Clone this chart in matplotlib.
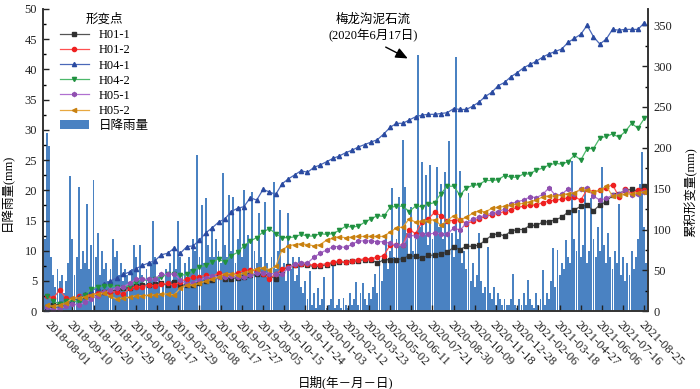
import matplotlib
matplotlib.use('Agg')
import matplotlib.pyplot as plt
from matplotlib.patches import Patch
from matplotlib.ticker import MultipleLocator
import pandas as pd

plt.rcParams['font.family'] = ['Liberation Serif', 'Noto Sans CJK SC']
plt.rcParams['font.size'] = 9

# daily rainfall (mm), one value per 4-day step from 2018-07-16
rain = [17, 12, 29.4, 27.3, 9, 6, 4, 7, 5, 6, 3, 5, 8, 22.4, 12, 6, 9, 20.6, 7, 10,
        8, 17.8, 7, 11, 21.7, 9, 13, 6, 10, 7, 8, 5, 7, 12, 9, 10, 6, 8, 5, 7,
        6, 4, 7, 10.9, 9, 5, 11, 6, 4, 7, 5, 8, 15, 9, 4, 6, 3, 5, 7, 6,
        8, 5, 10, 7, 15, 9, 6, 8, 5, 9, 7, 12, 10, 25.8, 9, 17.5, 8, 18.7, 11, 9,
        14, 9, 12, 10, 8, 22.8, 11, 9, 19.2, 10, 18.9, 8, 12, 17.3, 9, 20, 11, 12.6, 7, 19.8,
        10, 8, 16.2, 9, 7, 18.1, 8, 6, 9, 21.4, 7, 10, 16.7, 6, 8, 5, 16.2, 7, 9, 5,
        6, 9, 4, 3, 5, 2, 6.6, 1, 3, 0.5, 3.9, 1, 2, 5.6, 0.5, 1, 2, 7.9, 0.5, 1,
        2, 0.5, 2.2, 1, 0.5, 3, 1, 2, 4.9, 1, 3, 4.6, 2, 1, 3, 2, 4, 6.2, 3, 9,
        5, 8, 12.6, 7, 10, 20.3, 9, 12, 18.9, 11, 28.3, 20.6, 13, 9, 17.3, 10, 12, 42.4, 14, 24.7,
        13, 22.5, 11, 24.2, 12, 15, 23.9, 14, 21, 12, 23.1, 10, 28.2, 13, 9, 42, 12, 23.2, 8, 10,
        7, 19.5, 5, 8, 4, 6, 12.9, 5, 3, 4, 10.6, 3, 2, 4, 1, 3, 2, 1, 2, 1,
        1, 2, 6.2, 1, 0.5, 2, 1, 3, 1, 5.1, 2, 1, 0.5, 3, 1, 2, 6.8, 1, 3, 2,
        5, 10.4, 4, 10.1, 6, 8, 7, 11.8, 9, 8, 24.8, 12, 10, 16.7, 9, 11, 20, 8, 10, 18.7,
        12, 9, 14, 10, 23.9, 11, 8, 13, 9, 7, 10, 8, 17.8, 6, 9, 5, 8, 6, 10, 7,
        9, 12, 21.1, 26.4, 14, 8]
rain_dates = pd.date_range('2018-07-16', periods=len(rain), freq='4D')

# cumulative deformation (mm), one value per 12-day survey from 2018-07-24
h01_1 = [5, 7, 9, 11, 13, 16, 19, 20, 21, 24, 25, 26, 28, 29, 31, 32, 32, 33, 34, 32,
         36, 32, 32, 32, 34, 37, 38, 43, 40, 40, 41, 42, 44, 45, 45, 43, 40, 49, 55, 57,
         58, 56, 55, 55, 57, 59, 60, 60, 61, 62, 63, 63, 59, 63, 63, 63, 64.5, 68, 67, 65,
         68.5, 68.5, 70.6, 72, 78.7, 75.5, 79.5, 79.5, 81, 87, 93, 95, 92, 98, 100, 100, 105, 105, 109, 109.5,
         112, 115, 121.5, 124, 128.5, 129.7, 123, 130, 134, 142, 144, 148, 149, 147, 153]
h01_2 = [19, 16, 26, 16, 15, 18, 20, 20, 22, 24, 24, 23, 21, 28, 30, 30, 32, 31, 33, 34,
         32, 36, 40, 42, 42, 44, 42, 47, 44, 44, 47, 50, 50, 50, 46, 40, 45, 52, 54, 57,
         58, 58, 56, 57, 58, 60, 61, 60, 62, 63, 64, 64.5, 66, 68, 81, 81, 81, 100, 95, 109,
         113, 121, 117, 111, 111, 112, 107, 110, 113, 116, 118, 120, 122, 124, 127, 128.5, 130, 130, 133, 135,
         136, 137, 139, 140, 136, 149, 146, 148, 151, 155, 140, 149, 144, 148, 148]
h04_1 = [1, 3, 6, 9, 13, 17, 21, 25, 29, 33, 37, 41, 45, 48, 52, 56, 59, 62, 69, 71,
         77, 71, 79, 80, 87, 96, 102, 109, 113, 122, 126, 128, 139, 136, 149, 146, 143, 156, 162, 167,
         172, 170, 176, 179, 183, 187, 190, 194, 197, 201, 204, 207, 210, 217, 225, 230, 230, 234, 238, 240,
         241, 241, 242, 243, 248, 247, 247, 251, 256, 263, 268, 276, 280, 287, 292, 298, 302, 306, 311, 315,
         318, 321, 329, 334, 339, 350, 336, 327, 333, 345, 344, 345, 345, 345, 353]
h04_2 = [18, 12, 9, 12, 13, 11, 20, 27, 30, 31, 31, 30, 29, 31, 36, 38, 38, 40, 42, 45,
         46, 44, 45, 49, 54, 56, 60, 64, 60, 68, 72, 80, 86, 90, 97, 101, 95, 90, 90, 91,
         94, 92, 92, 95, 94, 95, 99, 104, 103, 104, 109, 113, 117, 116, 127, 128.5, 128.5, 122, 128.5, 128,
         131, 133, 144, 153, 153, 142, 151, 154, 155, 160, 160, 161, 166, 164, 164, 168, 168, 173, 175, 179,
         181, 180, 183, 191, 185, 199, 199, 212, 214, 217, 213, 220, 230, 224, 236]
h05_1 = [5, 2, 3, 6, 9, 7, 11, 15, 19, 23, 26, 28, 30, 34, 39, 39, 39, 40, 45, 45,
         46, 38, 33, 35, 38, 41, 43, 42, 42, 43, 42, 42, 44, 47, 47, 46, 46, 46, 53, 58,
         59, 59, 66, 71, 75, 79, 79, 78, 82, 86, 86, 86, 85, 85, 83, 81, 81, 93, 92, 94,
         94, 95.8, 95, 94, 102, 99, 108, 113, 115, 117.5, 120, 122, 125, 131.6, 134, 136, 140, 139, 143, 151,
         142, 143, 150, 144, 150, 151, 141, 136, 138, 142, 143, 148, 142, 143, 146]
h05_2 = [7, 6, 7, 10, 16, 16, 17, 20, 21, 22, 18, 15, 16, 17, 19, 19, 19.5, 20, 21, 21,
         20, 28, 32, 32, 34, 37, 39, 42, 46, 46, 44, 47, 49, 52, 53, 51, 55, 75, 80, 81.5,
         82.5, 81.5, 80, 81.5, 87, 89.5, 91, 90, 90.5, 91.5, 91.5, 91.5, 91.5, 91.5, 97, 102, 103, 113, 109, 110,
         111, 112, 105, 111, 117, 112, 115, 120, 123, 121.5, 126, 127, 128.5, 130, 131, 132, 134, 136, 140, 141,
         141, 142, 144, 145, 149, 148, 146, 148, 153, 141, 142, 143, 144, 145, 146]
survey_dates = pd.date_range('2018-07-24', periods=len(h04_1), freq='12D')

point_names = ['H01-1', 'H01-2', 'H04-1', 'H04-2', 'H05-1', 'H05-2']
point_values = [h01_1, h01_2, h04_1, h04_2, h05_1, h05_2]
line_colors = ['#555555', '#ff5050', '#4a68b8', '#4cb86a', '#b070d0', '#e8a840']
marker_colors = ['#303030', '#ee2020', '#2a4aa0', '#209040', '#9050b0', '#c88010']
markers = ['s', 'o', '^', 'v', 'h', '<']

tick_dates = pd.date_range('2018-08-01', '2021-08-25', freq='40D')

fig, ax = plt.subplots(figsize=(7, 3.89), dpi=100)
fig.subplots_adjust(left=0.061, right=0.925, top=0.977, bottom=0.2)

ax.bar(rain_dates, rain, width=3.6, color='#4a82c2', linewidth=0)
ax2 = ax.twinx()
handles = []
for name, vals, lc, mc, m in zip(point_names, point_values, line_colors, marker_colors, markers):
    h, = ax2.plot(survey_dates, vals, color=lc, lw=0.9, marker=m, ms=3.0,
                  mfc=mc, mec=mc, label=name)
    handles.append(h)
handles.append(Patch(facecolor='#4a82c2', label='日降雨量'))

ax.set_xlim(pd.Timestamp('2018-07-16'), pd.Timestamp('2021-08-31'))
ax.set_ylim(0, 50)
ax2.set_ylim(0, 370)
ax.set_xticks(tick_dates)
ax.set_xticklabels([d.strftime('%Y-%m-%d') for d in tick_dates],
                   rotation=-45, ha='left', va='top', rotation_mode='anchor')
ax.yaxis.set_major_locator(MultipleLocator(5))
ax.yaxis.set_minor_locator(MultipleLocator(2.5))
ax2.yaxis.set_major_locator(MultipleLocator(50))
ax2.yaxis.set_minor_locator(MultipleLocator(25))
for a in (ax, ax2):
    a.tick_params(direction='in', length=4, width=1, colors='#222222', pad=4)
    a.tick_params(which='minor', direction='in', length=2, width=1)
    a.spines['top'].set_visible(False)
    for s in ('left', 'right', 'bottom'):
        a.spines[s].set_linewidth(1.2)
        a.spines[s].set_color('#333333')
ax.tick_params(axis='x', pad=5)

ax.set_ylabel('日降雨量(mm)')
ax.yaxis.set_label_coords(-0.047, 0.394)
ax2.set_ylabel('累积形变量(mm)')
ax2.yaxis.set_label_coords(1.061, 0.394)
ax.set_xlabel('日期(年－月－日)')
ax.xaxis.set_label_coords(0.5, -0.212)

ax.text(pd.Timestamp('2020-03-31'), 46.8, '梅龙沟泥石流\n(2020年6月17日)',
        ha='center', va='center', linespacing=1.3)
ax.annotate('', xy=(pd.Timestamp('2020-06-09'), 41.6),
            xytext=(pd.Timestamp('2020-04-19'), 43.9),
            arrowprops=dict(arrowstyle='-|>,head_length=0.8,head_width=0.35',
                            color='black', lw=1))

ax2.legend(handles=handles, title='形变点', loc='upper left',
           bbox_to_anchor=(0.02, 1.0), frameon=False, labelspacing=0.25,
           handlelength=2.3, handletextpad=0.8, borderaxespad=0,
           fontsize=9, title_fontsize=9)

plt.savefig('out.png', dpi=100)
